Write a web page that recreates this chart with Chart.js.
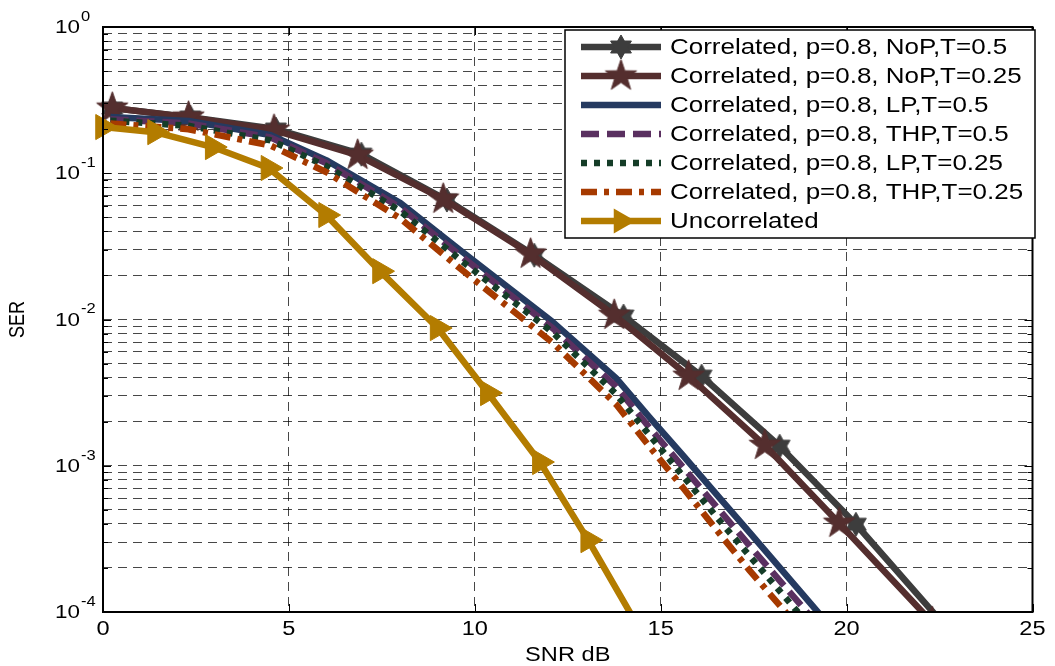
<!DOCTYPE html>
<html><head><meta charset="utf-8">
<script src="https://cdn.jsdelivr.net/npm/chart.js@4.4.1/dist/chart.umd.min.js"></script>
<style>html,body{margin:0;padding:0;background:#fff;}#wrap{width:1055px;height:666px;}</style>
</head><body><div id="wrap"><canvas id="c" width="1055" height="666"></canvas></div>
<script>
// ---------- data ----------
const xTickValues = [0, 5, 10, 15, 20, 25];
const xTickLabels = ['0', '5', '10', '15', '20', '25'];
const yTickValues = [1e-4,2e-4,3e-4,4e-4,5e-4,6e-4,7e-4,8e-4,9e-4,
                     1e-3,2e-3,3e-3,4e-3,5e-3,6e-3,7e-3,8e-3,9e-3,
                     1e-2,2e-2,3e-2,4e-2,5e-2,6e-2,7e-2,8e-2,9e-2,
                     1e-1,2e-1,3e-1,4e-1,5e-1,6e-1,7e-1,8e-1,9e-1,1];
const yMajorValues = [1e-4, 1e-3, 1e-2, 1e-1, 1];
const yMajorExponents = ['-4', '-3', '-2', '-1', '0'];

const seriesNames = [
  'Correlated, p=0.8, NoP,T=0.5',
  'Correlated, p=0.8, NoP,T=0.25',
  'Correlated, p=0.8, LP,T=0.5',
  'Correlated, p=0.8, THP,T=0.5',
  'Correlated, p=0.8, LP,T=0.25',
  'Correlated, p=0.8, THP,T=0.25',
  'Uncorrelated'
];

const snrNoP05  = [0.25, 2.35, 4.65, 6.95, 9.25, 11.6, 14.0, 16.1, 18.2, 20.25, 22.6];
const serNoP05  = [0.279, 0.242, 0.2005, 0.135, 0.0656, 0.0275, 0.01055, 0.0041, 0.00136, 0.000398, 8.3e-5];

const snrNoP025 = [0.25, 2.3, 4.6, 6.85, 9.15, 11.5, 13.75, 15.75, 17.8, 19.8, 22.3];
const serNoP025 = [0.279, 0.242, 0.197, 0.133, 0.0666, 0.028, 0.0107, 0.0041, 0.00138, 0.000405, 8.5e-5];

const snrPre    = [0.2, 2.3, 4.5, 6.0, 8.0, 9.6, 12.1, 13.8, 14.7, 15.6, 16.6, 17.4, 19.5];
const serLP05   = [0.242, 0.2275, 0.1824, 0.123, 0.0625, 0.0299, 0.0096, 0.00397, 0.00214, 0.001175, 0.000596, 0.000347, 8.3e-5];
const serTHP05  = [0.234, 0.219, 0.176, 0.1175, 0.0582, 0.0275, 0.0087, 0.00347, 0.00182, 0.000977, 0.00049, 0.000282, 6.8e-5];
const serLP025  = [0.229, 0.211, 0.168, 0.112, 0.055, 0.0257, 0.00813, 0.00309, 0.00162, 0.000851, 0.000417, 0.00024, 5.75e-5];
const serTHP025 = [0.219, 0.2, 0.155, 0.102, 0.049, 0.0224, 0.00692, 0.00263, 0.00135, 0.000708, 0.000339, 0.000191, 4.6e-5];

const snrUnc    = [0, 1.4, 2.95, 4.45, 6.0, 7.45, 9.0, 10.35, 11.75, 13.05, 14.45];
const serUnc    = [0.207, 0.191, 0.151, 0.1086, 0.0518, 0.0214, 0.00874, 0.00314, 0.00106, 0.00031, 7.5e-5];

// ---------- styling ----------
const FONT = '"Liberation Sans", Arial, sans-serif';
const SX = 1.18; // horizontal stretch of text in the reference

function makeStar(points, R, r, color) {
  const size = Math.ceil(2 * R + 4);
  const cv = document.createElement('canvas');
  cv.width = size; cv.height = size;
  const c = cv.getContext('2d');
  c.translate(size / 2, size / 2);
  c.beginPath();
  for (let i = 0; i < points * 2; i++) {
    const rad = (i % 2 === 0) ? R : r;
    const a = -Math.PI / 2 + i * Math.PI / points;
    const px = Math.cos(a) * rad, py = Math.sin(a) * rad;
    if (i === 0) c.moveTo(px, py); else c.lineTo(px, py);
  }
  c.closePath();
  c.fillStyle = color; c.fill();
  c.strokeStyle = color; c.lineWidth = 1; c.stroke();
  return cv;
}
const cGrey = '#3d3d3d', cBrown = '#542e2e', cBlue = '#253a60', cPurple = '#5a3060',
      cGreen = '#153d28', cOrange = '#a63a00', cGold = '#b37c00';
const hexagram = makeStar(6, 12, 6.9, cGrey);
const pentagram = makeStar(5, 16.5, 6.5, cBrown);

function pts(xs, ys) { return xs.map((x, i) => ({ x: x, y: ys[i] })); }
const clipArea = { left: 25, top: 25, right: 25, bottom: 0 };

const datasets = [
  { label: seriesNames[0], data: pts(snrNoP05, serNoP05), borderColor: cGrey, borderWidth: 6.5,
    pointStyle: hexagram, pointRadius: 12, order: 7, legendMarker: 'hex' },
  { label: seriesNames[1], data: pts(snrNoP025, serNoP025), borderColor: cBrown, borderWidth: 6.5,
    pointStyle: pentagram, pointRadius: 16, order: 6, legendMarker: 'pent' },
  { label: seriesNames[2], data: pts(snrPre, serLP05), borderColor: cBlue, borderWidth: 6.5,
    pointRadius: 0, order: 5 },
  { label: seriesNames[3], data: pts(snrPre, serTHP05), borderColor: cPurple, borderWidth: 6.5,
    borderDash: [18, 8], pointRadius: 0, order: 4 },
  { label: seriesNames[4], data: pts(snrPre, serLP025), borderColor: cGreen, borderWidth: 6.5,
    borderDash: [6, 7], pointRadius: 0, order: 3 },
  { label: seriesNames[5], data: pts(snrPre, serTHP025), borderColor: cOrange, borderWidth: 6.5,
    borderDash: [16, 7, 5, 7], pointRadius: 0, order: 2 },
  { label: seriesNames[6], data: pts(snrUnc, serUnc), borderColor: cGold, borderWidth: 6.5,
    pointStyle: 'triangle', rotation: 90, pointRadius: 14.5, pointBackgroundColor: cGold,
    pointBorderColor: cGold, pointBorderWidth: 1, order: 1, legendMarker: 'tri' }
];
datasets.forEach(d => {
  d.fill = false; d.tension = 0; d.clip = clipArea; d.backgroundColor = d.borderColor;
  d.borderCapStyle = 'butt'; d.borderJoinStyle = 'round';
  d.pointHoverRadius = d.pointRadius;
});

function sText(ctx, text, x, y, size, align) {
  ctx.save();
  ctx.font = size + 'px ' + FONT;
  ctx.textBaseline = 'middle';
  ctx.textAlign = 'left';
  const w = ctx.measureText(text).width * SX;
  const left = align === 'center' ? x - w / 2 : (align === 'right' ? x - w : x);
  ctx.translate(left, y);
  ctx.scale(SX, 1);
  ctx.fillStyle = '#000';
  ctx.fillText(text, 0, 0);
  ctx.restore();
  return w;
}

function drawTri(ctx, x, y, r, color) {
  ctx.save();
  ctx.beginPath();
  ctx.moveTo(x + r, y);
  ctx.lineTo(x - r / 2, y - r * Math.sqrt(3) / 2);
  ctx.lineTo(x - r / 2, y + r * Math.sqrt(3) / 2);
  ctx.closePath();
  ctx.fillStyle = color; ctx.fill();
  ctx.restore();
}

const decorPlugin = {
  id: 'decor',
  afterDraw(chart) {
    const ctx = chart.ctx, a = chart.chartArea;
    const xs = chart.scales.x, ys = chart.scales.y;
    ctx.save();
    // inward tick marks
    ctx.strokeStyle = '#000'; ctx.lineWidth = 1;
    ctx.beginPath();
    xTickValues.forEach(v => {
      const px = Math.round(xs.getPixelForValue(v)) + 0.5;
      ctx.moveTo(px, a.bottom); ctx.lineTo(px, a.bottom - 8);
      ctx.moveTo(px, a.top); ctx.lineTo(px, a.top + 8);
    });
    yTickValues.forEach(v => {
      const py = Math.round(ys.getPixelForValue(v)) + 0.5;
      const len = yMajorValues.includes(v) ? 8 : 5;
      ctx.moveTo(a.left, py); ctx.lineTo(a.left + len, py);
      ctx.moveTo(a.right, py); ctx.lineTo(a.right - len, py);
    });
    ctx.stroke();
    // frame
    ctx.lineWidth = 2;
    ctx.strokeRect(a.left, a.top, a.right - a.left, a.bottom - a.top);
    // x tick labels
    xTickValues.forEach((v, i) => {
      sText(ctx, xTickLabels[i], xs.getPixelForValue(v), 629, 20, 'center');
    });
    // y tick labels 10^k
    yMajorValues.forEach((v, i) => {
      const py = ys.getPixelForValue(v);
      sText(ctx, '10', 80, py + 1, 19, 'right');
      sText(ctx, yMajorExponents[i], 81, py - 10, 14, 'left');
    });
    // axis titles
    sText(ctx, 'SNR dB', (a.left + a.right) / 2, 655, 20, 'center');
    ctx.save();
    ctx.translate(18, (a.top + a.bottom) / 2);
    ctx.rotate(-Math.PI / 2);
    ctx.scale(1, SX);
    ctx.font = '18px ' + FONT;
    ctx.textAlign = 'center'; ctx.textBaseline = 'middle'; ctx.fillStyle = '#000';
    ctx.fillText('SER', 0, 0);
    ctx.restore();
    // legend
    const L = 565, T = 30, R = 1035, B = 238;
    ctx.fillStyle = '#fff';
    ctx.fillRect(L, T, R - L, B - T);
    ctx.strokeStyle = '#000'; ctx.lineWidth = 1.5;
    ctx.strokeRect(L, T, R - L, B - T);
    chart.data.datasets.forEach((d, i) => {
      const y = T + 17 + i * 29;
      ctx.save();
      ctx.strokeStyle = d.borderColor; ctx.lineWidth = d.borderWidth;
      ctx.setLineDash(d.borderDash || []);
      ctx.lineCap = 'butt';
      ctx.beginPath(); ctx.moveTo(581, y); ctx.lineTo(661, y); ctx.stroke();
      ctx.restore();
      if (d.legendMarker === 'hex') ctx.drawImage(hexagram, 621 - hexagram.width / 2, y - hexagram.height / 2);
      if (d.legendMarker === 'pent') ctx.drawImage(pentagram, 621 - pentagram.width / 2, y - pentagram.height / 2);
      if (d.legendMarker === 'tri') drawTri(ctx, 621, y, 14.5, d.borderColor);
      sText(ctx, d.label, 670, y + 1, 22, 'left');
    });
    ctx.restore();
  }
};

const gridOpts = { color: 'rgba(0,0,0,0.72)', lineWidth: 1, drawTicks: false };
new Chart(document.getElementById('c').getContext('2d'), {
  type: 'line',
  data: { datasets: datasets },
  options: {
    responsive: false, animation: false,
    layout: { padding: { left: 103, right: 18, top: 27, bottom: 54 } },
    plugins: { legend: { display: false }, tooltip: { enabled: false } },
    events: [],
    scales: {
      x: { type: 'linear', min: 0, max: 25,
           ticks: { display: false }, grid: gridOpts,
           border: { display: false, dash: [9, 6] },
           afterBuildTicks: s => { s.ticks = xTickValues.map(v => ({ value: v })); } },
      y: { type: 'logarithmic', min: 1e-4, max: 1,
           ticks: { display: false }, grid: gridOpts,
           border: { display: false, dash: [9, 6] },
           afterBuildTicks: s => { s.ticks = yTickValues.map(v => ({ value: v })); } }
    }
  },
  plugins: [decorPlugin]
});
</script></body></html>
